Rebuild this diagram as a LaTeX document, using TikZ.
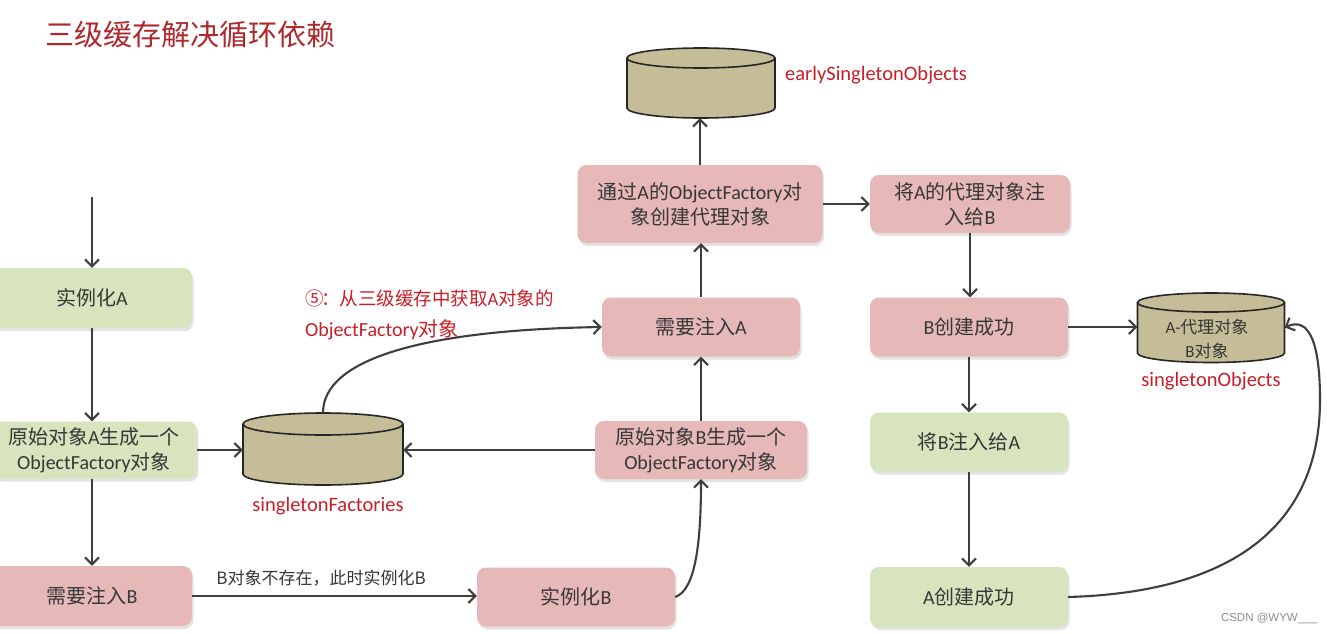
\documentclass[tikz,border=0pt]{standalone}
\usepackage{fontspec}
\setmainfont{Carlito}
\newfontfamily\cjk{Noto Sans CJK SC}
\newfontfamily\wmfont{Liberation Sans}
\usetikzlibrary{arrows.meta,shadows}
\definecolor{gfill}{RGB}{215,228,189}
\definecolor{pfill}{RGB}{230,185,184}
\definecolor{txt}{RGB}{55,55,55}
\definecolor{arrc}{RGB}{62,62,62}
\definecolor{cylc}{RGB}{196,189,151}
\definecolor{lblred}{RGB}{200,30,40}
\definecolor{titred}{RGB}{175,40,45}
\newcommand\C[1]{{\cjk #1}}
\newcommand\cyl[5]{%
  \fill[cylc] ({#1-#4},#2) -- ({#1-#4},#3) arc[start angle=180,end angle=360,x radius=#4pt,y radius=#5pt] -- ({#1+#4},#2) -- cycle;
  \draw[cylline] ({#1-#4},#2) -- ({#1-#4},#3) arc[start angle=180,end angle=360,x radius=#4pt,y radius=#5pt] -- ({#1+#4},#2);
  \draw[cylline,fill=cylc] (#1,#2) ellipse[x radius=#4pt,y radius=#5pt];}
\tikzset{
  box/.style={rounded corners=9pt, align=center, text=txt, font=\fontsize{20}{25}\selectfont, inner sep=0pt,
    drop shadow={shadow xshift=1.5pt,shadow yshift=-3pt,opacity=0.22}},
  gbox/.style={box, fill=gfill},
  pbox/.style={box, fill=pfill},
  wh/.style 2 args={minimum width=#1pt, minimum height=#2pt},
  arr/.style={draw=arrc, line width=2.1pt, -{Straight Barb[length=7pt,width=14pt]}},
  cylline/.style={draw=black!85, line width=1.6pt},
  cylanchor/.style={inner sep=0pt, draw=none},
  redlbl/.style={text=lblred, font=\fontsize{20.5}{31}\selectfont},
  cyltext/.style={text=txt, font=\fontsize{17}{20}\selectfont},
}
\begin{document}
\begin{tikzpicture}[x=1pt,y=-1pt]
\useasboundingbox (0,0) rectangle (1327,634);
\fill[white] (0,0) rectangle (1327,634);

% title
\node[anchor=west, text=titred, font=\cjk\fontsize{29}{29}\selectfont, inner sep=0pt] (title) at (45,35) {三级缓存解决循环依赖};

% cylinders
\cyl{701}{58}{108}{74}{10}
\node[cylanchor, wh={148}{70}] (early) at (701,83) {};
\node[redlbl, anchor=west, inner sep=0pt] (earlyL) at (785,75) {earlySingletonObjects};

\cyl{323}{424}{474}{80}{11}
\node[cylanchor, wh={160}{72}] (sf) at (323,449) {};
\node[redlbl] (sfL) at (328,506) {singletonFactories};

\cyl{1211}{302.5}{353}{73.5}{9.5}
\node[cylanchor, wh={147}{70}] (so) at (1211,327.5) {};
\node[cyltext] (soT1) at (1207,327) {A-\C{代理对象}};
\node[cyltext] (soT2) at (1207,351) {B\C{对象}};
\node[redlbl] (soL) at (1211,381) {singletonObjects};

% boxes
\node[gbox, wh={200}{60}] (iA) at (92,298) {\C{实例化}A};
\node[gbox, wh={206}{57}] (oA) at (94,450) {\C{原始对象}A\C{生成一个}\\ObjectFactory\C{对象}};
\node[pbox, wh={200}{60}] (nB) at (92,596) {\C{需要注入}B};
\node[pbox, wh={198}{59}] (iB) at (576,597) {\C{实例化}B};
\node[pbox, wh={212}{58}] (oB) at (701,450) {\C{原始对象}B\C{生成一个}\\ObjectFactory\C{对象}};
\node[pbox, wh={198}{59}] (nA) at (701,327) {\C{需要注入}A};
\node[pbox, wh={245}{78}] (tA) at (700,204) {\C{通过}A\C{的}ObjectFactory\C{对}\\\C{象创建代理对象}};
\node[pbox, wh={200}{58}] (jA) at (970,204) {\C{将}A\C{的代理对象注}\\\C{入给}B};
\node[pbox, wh={198}{59}] (Bcs) at (969,327) {B\C{创建成功}};
\node[gbox, wh={198}{59}] (jB) at (969,442) {\C{将}B\C{注入给}A};
\node[gbox, wh={198}{60}] (Acs) at (969,597) {A\C{创建成功}};

% labels
\node[redlbl, anchor=north west, align=left, inner sep=0pt, font=\fontsize{20}{31}\selectfont] (stepL) at (305,290) {{\fontsize{18.5}{31}\selectfont\C{⑤\kern-2.5pt：从三级缓存中获取}A\C{对象的}}\\ObjectFactory\C{对象}};
\node[text=txt, font=\cjk\fontsize{17}{17}\selectfont, inner sep=0pt] (bL) at (321,578) {B对象不存在，此时实例化B};
\node[text=black!45, font=\wmfont\fontsize{11.5}{12}\selectfont, inner sep=0pt] (wm) at (1269,618) {CSDN @WYW\_\_\_};

% connectors
\coordinate (start) at (92,197);
\draw[arr] (start) -- (iA.north);
\draw[arr] (iA.south) -- (iA.south |- oA.north);
\draw[arr] (iA.south |- oA.south) -- (iA.south |- nB.north);
\draw[arr] (oA.east) -- (oA.east -| sf.west);
\draw[arr] (nB.east) -- (nB.east -| iB.west);
\draw[arr] (iB.east) .. controls (696,590) and (701,540) .. (oB.south);
\draw[arr] (oB.west) -- (oB.west -| sf.east);
\draw[arr] (oB.north) -- (oB.north |- nA.south);
\draw[arr] (sf.north) .. controls (323,360) and (420,330) .. (nA.west);
\draw[arr] (nA.north) -- (nA.north |- tA.south);
\draw[arr] (tA.north) -- (tA.north |- early.south);
\draw[arr] (tA.east) -- (tA.east -| jA.west);
\draw[arr] (jA.south) -- (jA.south |- Bcs.north);
\draw[arr] (Bcs.east) -- (Bcs.east -| so.west);
\draw[arr] (Bcs.south) -- (Bcs.south |- jB.north);
\draw[arr] (jB.south) -- (jB.south |- Acs.north);
\draw[arr] (Acs.east) .. controls (1240,592) and (1320,520) .. (1320,400) .. controls (1320,345) and (1310,316) .. (so.east);
\end{tikzpicture}
\end{document}
